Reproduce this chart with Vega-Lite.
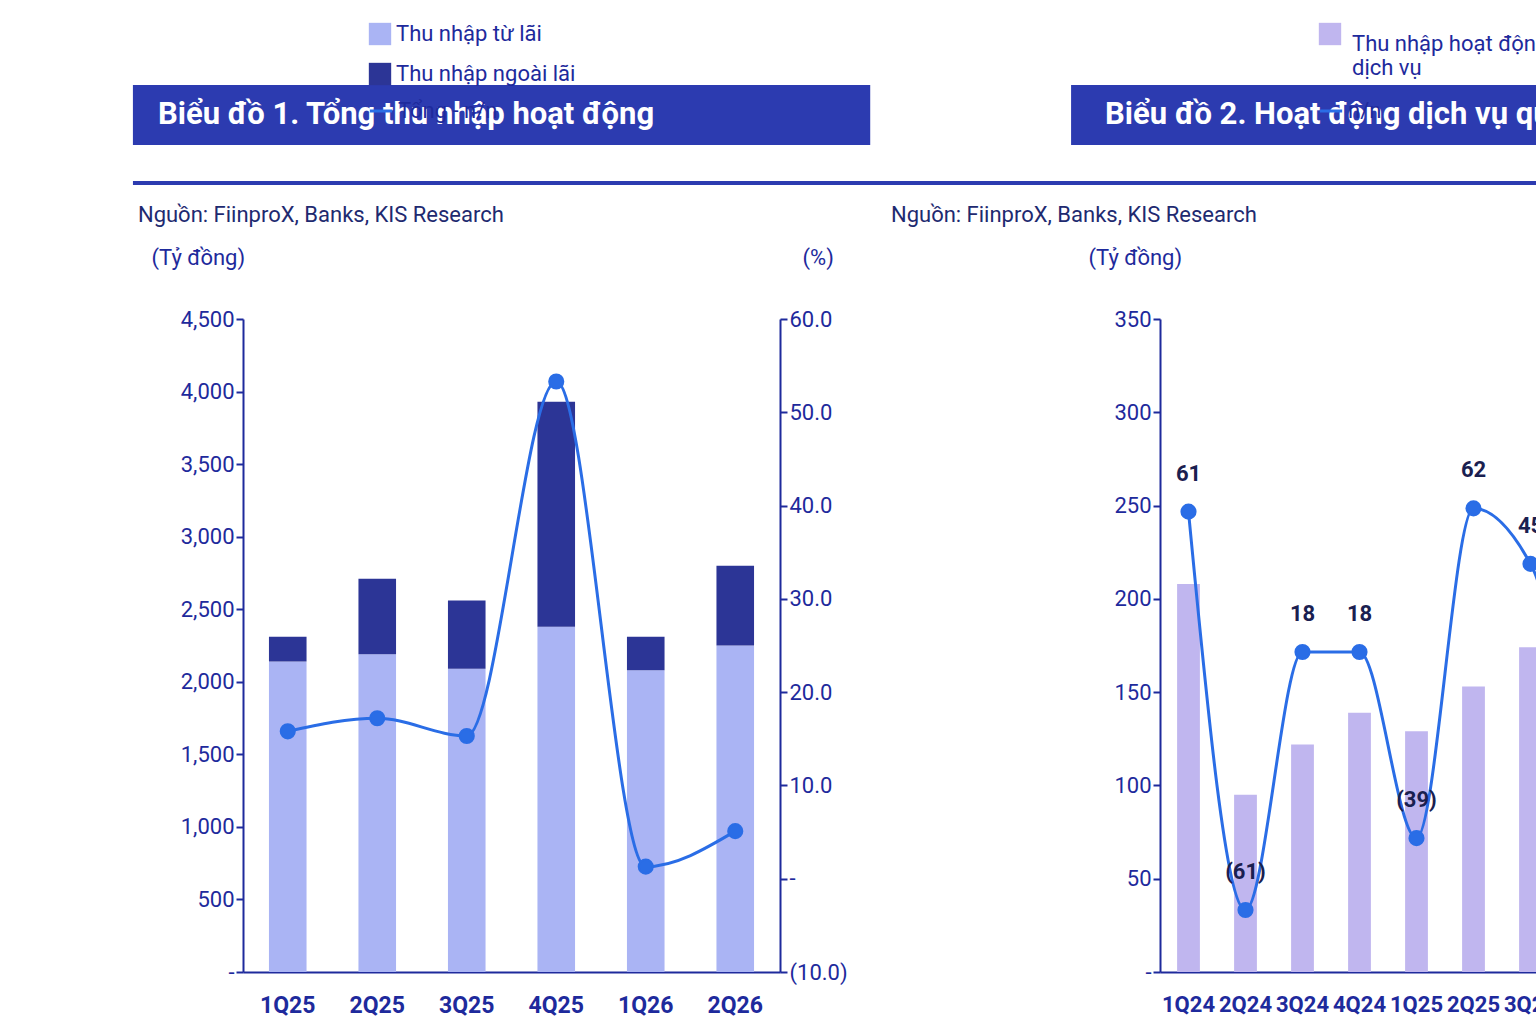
{
  "$schema": "https://vega.github.io/schema/vega-lite/v6.json",
  "background": "white",
  "padding": {"left": 130, "top": 22, "right": 99, "bottom": 0},
  "bounds": "flush",
  "config": {
    "view": {"stroke": null},
    "font": "Roboto",
    "axis": {"domainColor": "#1e2a9c", "domainWidth": 2, "tickColor": "#1e2a9c", "tickWidth": 2, "tickSize": 7, "labelColor": "#1e2a9c", "labelFontSize": 22, "titleColor": "#1e2a9c", "titleFontSize": 22, "titleFontWeight": "normal", "grid": false},
    "legend": {"labelFontSize": 22, "labelColor": "#1e2a9c", "title": null, "symbolSize": 500}
  },
  "spacing": 10,
  "vconcat": [
    {
      "spacing": 200,
      "resolve": {"scale": {"color": "independent", "fill": "independent", "stroke": "independent"}},
      "hconcat": [
        {
          "spacing": 101,
          "vconcat": [
            {
              "width": 537, "height": 60,
              "data": {"values": [{"t": "Biểu đồ 1. Tổng thu nhập hoạt động", "a": -0.205, "b": 1.168}]},
              "layer": [
                {"mark": {"type": "rect", "color": "#2c3bb0"},
                 "encoding": {"x": {"field": "a", "type": "quantitative", "scale": {"domain": [0, 1]}, "axis": null}, "x2": {"field": "b"}}},
                {"mark": {"type": "text", "color": "white", "fontSize": 31, "fontWeight": "bold", "align": "left", "dx": 25},
                 "encoding": {"x": {"field": "a", "type": "quantitative", "scale": {"domain": [0, 1]}, "axis": null}, "text": {"field": "t"}}}
              ]
            },
            {
              "width": 537, "height": 653,
              "data": {"values": [
                {"q": "1Q25", "type": "Thu nhập từ lãi", "v": 2140, "g": 15.8},
                {"q": "1Q25", "type": "Thu nhập ngoài lãi", "v": 170, "g": 15.8},
                {"q": "2Q25", "type": "Thu nhập từ lãi", "v": 2190, "g": 17.2},
                {"q": "2Q25", "type": "Thu nhập ngoài lãi", "v": 520, "g": 17.2},
                {"q": "3Q25", "type": "Thu nhập từ lãi", "v": 2090, "g": 15.3},
                {"q": "3Q25", "type": "Thu nhập ngoài lãi", "v": 470, "g": 15.3},
                {"q": "4Q25", "type": "Thu nhập từ lãi", "v": 2380, "g": 53.3},
                {"q": "4Q25", "type": "Thu nhập ngoài lãi", "v": 1550, "g": 53.3},
                {"q": "1Q26", "type": "Thu nhập từ lãi", "v": 2080, "g": 1.3},
                {"q": "1Q26", "type": "Thu nhập ngoài lãi", "v": 230, "g": 1.3},
                {"q": "2Q26", "type": "Thu nhập từ lãi", "v": 2250, "g": 5.1},
                {"q": "2Q26", "type": "Thu nhập ngoài lãi", "v": 550, "g": 5.1}
              ]},
              "encoding": {"x": {"field": "q", "type": "nominal", "sort": null, "title": null, "scale": {"paddingInner": 0.58, "paddingOuter": 0.29},
                "axis": {"labelAngle": 0, "labelFontWeight": "bold", "labelFontSize": 23, "ticks": false, "labelPadding": 22}}},
              "layer": [
                {"mark": {"type": "bar"},
                 "encoding": {
                   "y": {"field": "v", "type": "quantitative", "stack": "zero", "scale": {"domain": [0, 4500]},
                     "axis": {"values": [0, 500, 1000, 1500, 2000, 2500, 3000, 3500, 4000, 4500], "labelExpr": "datum.value == 0 ? '-' : format(datum.value, ',')", "title": "(Tỷ đồng)", "titleAngle": 0, "titleAlign": "left", "titleX": -92, "titleY": -50}},
                   "color": {"field": "type", "type": "nominal", "scale": {"domain": ["Thu nhập từ lãi", "Thu nhập ngoài lãi"], "range": ["#aab4f4", "#2c3596"]},
                     "legend": {"orient": "none", "legendX": 125, "legendY": -63, "symbolType": "square", "direction": "vertical", "rowPadding": 16, "labelLimit": 300}},
                   "order": {"field": "type", "sort": "descending"}
                 }},
                {"transform": [{"filter": "datum.type == 'Thu nhập từ lãi'"}],
                 "mark": {"type": "line", "interpolate": "monotone", "strokeWidth": 3, "point": {"size": 200, "filled": true, "color": "#2a6de6"}},
                 "encoding": {
                   "y": {"field": "g", "type": "quantitative", "scale": {"domain": [-10, 60]},
                     "axis": {"orient": "right", "values": [-10, 0, 10, 20, 30, 40, 50, 60], "labelExpr": "datum.value == 0 ? '-' : datum.value < 0 ? '(' + format(-datum.value, '.1f') + ')' : format(datum.value, '.1f')", "title": "(%)", "titleAngle": 0, "titleAlign": "left", "titleX": 22, "titleY": -50}},
                   "stroke": {"datum": "Tổng - n/n", "type": "nominal", "scale": {"range": ["#2a6de6"]},
                     "legend": {"orient": "none", "legendX": 125, "legendY": 13, "symbolType": "stroke", "symbolStrokeWidth": 3, "labelLimit": 300}}
                 }}
              ],
              "resolve": {"scale": {"y": "independent"}}
            }
          ]
        },
        {
          "spacing": 101,
          "vconcat": [
            {
              "width": 570, "height": 60,
              "data": {"values": [{"t": "Biểu đồ 2. Hoạt động dịch vụ qua các năm", "a": -0.156, "b": 1.137}]},
              "layer": [
                {"mark": {"type": "rect", "color": "#2c3bb0"},
                 "encoding": {"x": {"field": "a", "type": "quantitative", "scale": {"domain": [0, 1]}, "axis": null}, "x2": {"field": "b"}}},
                {"mark": {"type": "text", "color": "white", "fontSize": 31, "fontWeight": "bold", "align": "left", "dx": 34},
                 "encoding": {"x": {"field": "a", "type": "quantitative", "scale": {"domain": [0, 1]}, "axis": null}, "text": {"field": "t"}}}
              ]
            },
            {
              "width": 570, "height": 653,
              "data": {"values": [
                {"q": "1Q24", "v": 208, "g": 61, "l": "61"},
                {"q": "2Q24", "v": 95, "g": -61, "l": "(61)"},
                {"q": "3Q24", "v": 122, "g": 18, "l": "18"},
                {"q": "4Q24", "v": 139, "g": 18, "l": "18"},
                {"q": "1Q25", "v": 129, "g": -39, "l": "(39)"},
                {"q": "2Q25", "v": 153, "g": 62, "l": "62"},
                {"q": "3Q25", "v": 174, "g": 45, "l": "45"},
                {"q": "4Q25", "v": 137, "g": -2, "l": "(2)"},
                {"q": "1Q26", "v": 148, "g": 16, "l": "16"},
                {"q": "2Q26", "v": 294, "g": 98, "l": "98"}
              ]},
              "encoding": {"x": {"field": "q", "type": "nominal", "sort": null, "title": null, "scale": {"paddingInner": 0.6, "paddingOuter": 0.3},
                "axis": {"labelAngle": 0, "labelFontWeight": "bold", "labelFontSize": 22, "ticks": false, "labelPadding": 22}}},
              "layer": [
                {"mark": {"type": "bar", "color": "#c0b6ef"},
                 "encoding": {
                   "y": {"field": "v", "type": "quantitative", "scale": {"domain": [0, 350]},
                     "axis": {"values": [0, 50, 100, 150, 200, 250, 300, 350], "labelExpr": "datum.value == 0 ? '-' : format(datum.value, ',')", "title": "(Tỷ đồng)", "titleAngle": 0, "titleAlign": "left", "titleX": -72, "titleY": -50}},
                   "fill": {"datum": "Thu nhập hoạt động dịch vụ", "type": "nominal", "scale": {"range": ["#c0b6ef"]},
                     "legend": {"orient": "none", "legendX": 158, "legendY": -63, "symbolType": "square", "labelLimit": 300, "labelLineHeight": 38, "labelBaseline": "top", "labelOffset": 10, "labelExpr": "['Thu nhập hoạt động', 'dịch vụ']"}}
                 }},
                {"layer": [
                  {"mark": {"type": "line", "interpolate": "monotone", "strokeWidth": 3, "point": {"size": 200, "filled": true, "color": "#2a6de6"}},
                   "encoding": {
                     "y": {"field": "g", "type": "quantitative", "scale": {"domain": [-80, 120]},
                       "axis": {"orient": "right", "values": [-80, -60, -40, -20, 0, 20, 40, 60, 80, 100, 120], "labelExpr": "datum.value == 0 ? '-' : datum.value < 0 ? '(' + format(-datum.value, 'd') + ')' : format(datum.value, 'd')", "title": "(%, n/n)", "titleAngle": 0, "titleAlign": "right", "titleX": 70, "titleY": -50}},
                     "stroke": {"datum": "n/n", "type": "nominal", "scale": {"range": ["#2a6de6"]},
                       "legend": {"orient": "none", "legendX": 158, "legendY": 13, "symbolType": "stroke", "symbolStrokeWidth": 3}}
                   }},
                  {"mark": {"type": "text", "fontSize": 22, "fontWeight": "bold", "color": "#1a2050", "dy": -38},
                   "encoding": {"y": {"field": "g", "type": "quantitative", "scale": {"domain": [-80, 120]}, "axis": null}, "text": {"field": "l"}}}
                ]}
              ],
              "resolve": {"scale": {"y": "independent"}}
            }
          ]
        }
      ]
    },
    {
      "width": 1386, "height": 120,
      "data": {"values": [
        {"s": "Nguồn: FiinproX, Banks, KIS Research", "x": -0.0758},
        {"s": "Nguồn: FiinproX, Banks, KIS Research", "x": 0.4675}
      ]},
      "layer": [
        {"data": {"values": [{"a": -0.0794, "b": 1, "y": 0.267}]},
         "mark": {"type": "rule", "color": "#2c3bb0", "strokeWidth": 4},
         "encoding": {"x": {"field": "a", "type": "quantitative", "scale": {"domain": [0, 1]}, "axis": null}, "x2": {"field": "b"}, "y": {"field": "y", "type": "quantitative", "scale": {"domain": [0, 1]}, "axis": null}}},
        {"mark": {"type": "text", "fontSize": 22, "color": "#1e2a70", "align": "left"},
         "encoding": {"x": {"field": "x", "type": "quantitative", "scale": {"domain": [0, 1]}, "axis": null}, "y": {"datum": 0, "type": "quantitative", "scale": {"domain": [0, 1]}, "axis": null}, "text": {"field": "s"}}}
      ]
    }
  ]
}
